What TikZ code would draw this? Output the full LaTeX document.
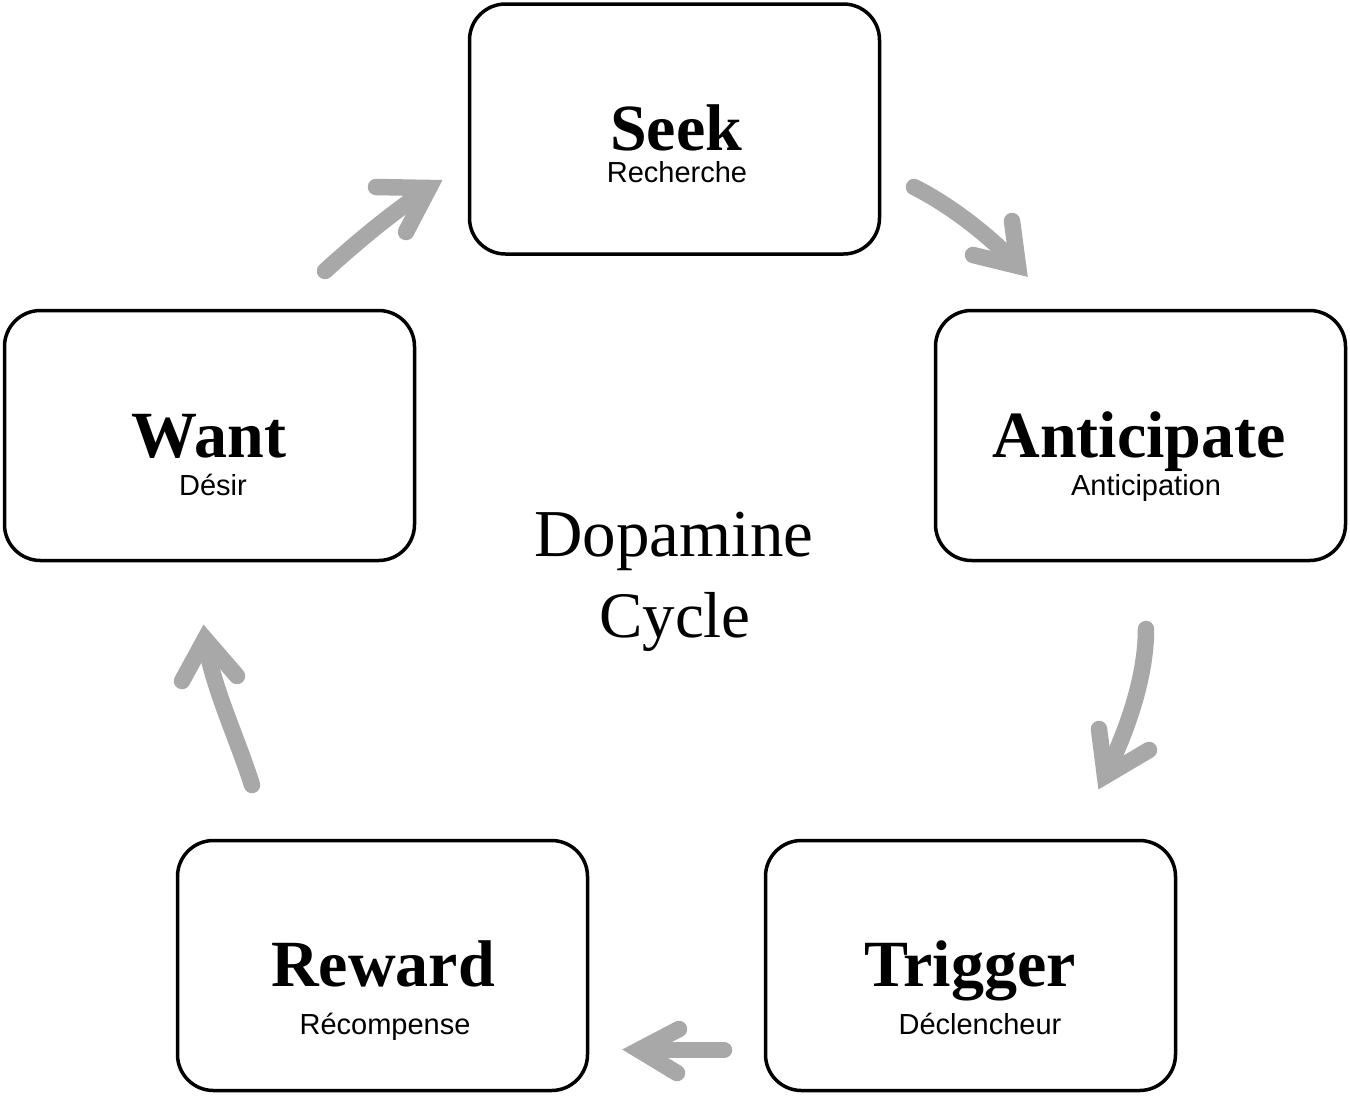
\documentclass[tikz,border=0pt]{standalone}
\usepackage{fontspec}
\setmainfont{Liberation Serif}
\newfontfamily\subfont{Liberation Sans}
\definecolor{arrowgray}{RGB}{168,168,168}
\begin{document}
\begin{tikzpicture}[x=1pt,y=-1pt,
  stagebox/.style={draw=black, line width=3.5pt, rounded corners=36pt,
    minimum width=410pt, minimum height=250pt, inner sep=0pt, fill=white},
  titletext/.style={anchor=base, inner sep=0pt, font=\fontsize{66}{70}\selectfont\bfseries},
  subtext/.style={anchor=base, inner sep=0pt, font=\subfont\fontsize{29}{32}\selectfont},
  centretext/.style={anchor=base, inner sep=0pt, font=\fontsize{67}{70}\selectfont},
  shaft/.style={draw=arrowgray, line width=16.5pt, line cap=round},
  head/.style={draw=arrowgray, line width=16.5pt, line cap=round, line join=miter}]
\useasboundingbox (0,0) rectangle (1350,1096);

% boxes
\node[stagebox] (seek) at (674.5,129) {};
\node[stagebox] (anti) at (1140.5,435.5) {};
\node[stagebox] (want) at (209.5,435.5) {};
\node[stagebox] (reward) at (382.5,965.5) {};
\node[stagebox] (trigger) at (970.5,965.5) {};

% texts
\node[titletext] (seekT) at (676,150) {Seek};
\node[subtext] (seekS) at (677,182) {Recherche};
\node[titletext] (antiT) at (1139,457) {Anticipate};
\node[subtext] (antiS) at (1146,495) {Anticipation};
\node[titletext] (wantT) at (209,457) {Want};
\node[subtext] (wantS) at (213,495) {Désir};
\node[titletext] (rewardT) at (383,986) {Reward};
\node[subtext] (rewardS) at (385,1034) {Récompense};
\node[titletext] (triggerT) at (970,986) {Trigger};
\node[subtext] (triggerS) at (980,1034) {Déclencheur};
\node[centretext] (dop) at (674,556) {Dopamine};
\node[centretext, font=\fontsize{65}{70}\selectfont] (cyc) at (675,637) {Cycle};

% arrow coordinates
\coordinate (a1s) at (325,271);
\coordinate (a1v) at (429,188);
\coordinate (a1l) at (376,187);
\coordinate (a1r) at (406,232);

\coordinate (a2s) at (914,187);
\coordinate (a2v) at (1018,266);
\coordinate (a2l) at (1012,221);
\coordinate (a2r) at (973,255);

\coordinate (a3s) at (1146,629);
\coordinate (a3v) at (1105,776);
\coordinate (a3l) at (1099,729);
\coordinate (a3r) at (1149,750);

\coordinate (a4s) at (724,1050);
\coordinate (a4v) at (639,1050);
\coordinate (a4l) at (679,1029);
\coordinate (a4r) at (677,1073);

\coordinate (a5s) at (252,785);
\coordinate (a5v) at (205,639);
\coordinate (a5l) at (182,681);
\coordinate (a5r) at (237,676);

% arrows
\draw[shaft] (a1s) .. controls (358,241) and (393,212) .. (a1v);
\draw[head] (a1l) -- (a1v) -- (a1r);

\draw[shaft] (a2s) .. controls (950,205) and (990,236) .. (a2v);
\draw[head] (a2l) -- (a2v) -- (a2r);

\draw[shaft] (a3s) .. controls (1146,680) and (1125,735) .. (a3v);
\draw[head] (a3l) -- (a3v) -- (a3r);

\draw[shaft] (a4s) -- (a4v);
\draw[head] (a4l) -- (a4v) -- (a4r);

\draw[shaft] (a5s) .. controls (238,740) and (212,686) .. (a5v);
\draw[head] (a5l) -- (a5v) -- (a5r);
\end{tikzpicture}
\end{document}
